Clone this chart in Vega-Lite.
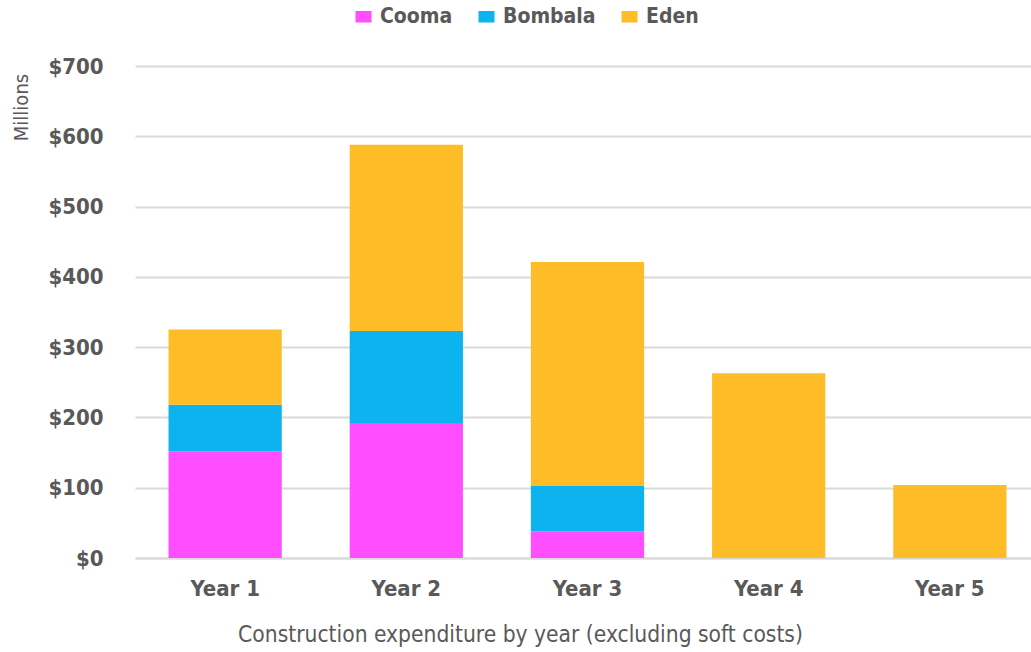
{
  "$schema": "https://vega.github.io/schema/vega-lite/v6.json",
  "autosize": "none",
  "width": 905,
  "height": 492,
  "padding": {"left": 135, "top": 66, "right": 0, "bottom": 94},
  "background": "white",
  "config": {
    "view": {"stroke": null},
    "font": "DejaVu Sans Condensed"
  },
  "data": {
    "values": [
      {"year": "Year 1", "region": "Cooma", "value": 152},
      {"year": "Year 1", "region": "Bombala", "value": 66},
      {"year": "Year 1", "region": "Eden", "value": 107},
      {"year": "Year 2", "region": "Cooma", "value": 192},
      {"year": "Year 2", "region": "Bombala", "value": 131},
      {"year": "Year 2", "region": "Eden", "value": 265},
      {"year": "Year 3", "region": "Cooma", "value": 38},
      {"year": "Year 3", "region": "Bombala", "value": 65},
      {"year": "Year 3", "region": "Eden", "value": 318},
      {"year": "Year 4", "region": "Cooma", "value": 0},
      {"year": "Year 4", "region": "Bombala", "value": 0},
      {"year": "Year 4", "region": "Eden", "value": 263},
      {"year": "Year 5", "region": "Cooma", "value": 0},
      {"year": "Year 5", "region": "Bombala", "value": 0},
      {"year": "Year 5", "region": "Eden", "value": 104}
    ]
  },
  "transform": [
    {"calculate": "indexof(['Cooma', 'Bombala', 'Eden'], datum.region)", "as": "stackOrder"}
  ],
  "mark": {"type": "bar"},
  "encoding": {
    "x": {
      "field": "year",
      "type": "nominal",
      "sort": null,
      "scale": {"paddingInner": 0.375, "paddingOuter": 0.185},
      "axis": {
        "title": "Construction expenditure by year (excluding soft costs)",
        "titleFont": "DejaVu Sans Condensed",
        "titleFontWeight": 300,
        "titleFontSize": 22.6,
        "titleColor": "#595959",
        "titleX": 385,
        "titleY": 76,
        "titleAlign": "center",
        "titleBaseline": "middle",
        "labelAngle": 0,
        "labelFontSize": 22,
        "labelFontWeight": "bold",
        "labelColor": "#595959",
        "labelPadding": 20,
        "domain": true,
        "domainColor": "#d9d9d9",
        "domainWidth": 2,
        "ticks": false
      }
    },
    "y": {
      "field": "value",
      "type": "quantitative",
      "aggregate": "sum",
      "stack": "zero",
      "scale": {"domain": [0, 700], "nice": false},
      "axis": {
        "title": "Millions",
        "titleFontSize": 20,
        "titleFontWeight": "normal",
        "titleColor": "#595959",
        "titleX": -114,
        "titleY": 41,
        "titleAngle": -90,
        "titleAlign": "center",
        "titleBaseline": "middle",
        "values": [0, 100, 200, 300, 400, 500, 600, 700],
        "format": "$.0f",
        "labelFontSize": 22,
        "labelFontWeight": "bold",
        "labelColor": "#595959",
        "labelPadding": 32,
        "ticks": false,
        "domain": false,
        "grid": true,
        "gridColor": "#d9d9d9",
        "gridWidth": 2
      }
    },
    "color": {
      "field": "region",
      "type": "nominal",
      "sort": ["Cooma", "Bombala", "Eden"],
      "scale": {
        "domain": ["Cooma", "Bombala", "Eden"],
        "range": ["#FF4DFF", "#0DB3EE", "#FEBC26"]
      },
      "legend": {
        "title": null,
        "orient": "none",
        "legendX": 218,
        "legendY": -60,
        "direction": "horizontal",
        "symbolType": "M-1,-0.72H1V0.72H-1Z",
        "symbolSize": 256,
        "symbolStrokeWidth": 0,
        "labelFontSize": 21,
        "labelFontWeight": "bold",
        "labelColor": "#595959",
        "columnPadding": 23,
        "labelOffset": 6
      }
    },
    "order": {"field": "stackOrder", "type": "quantitative", "sort": "ascending"}
  }
}
